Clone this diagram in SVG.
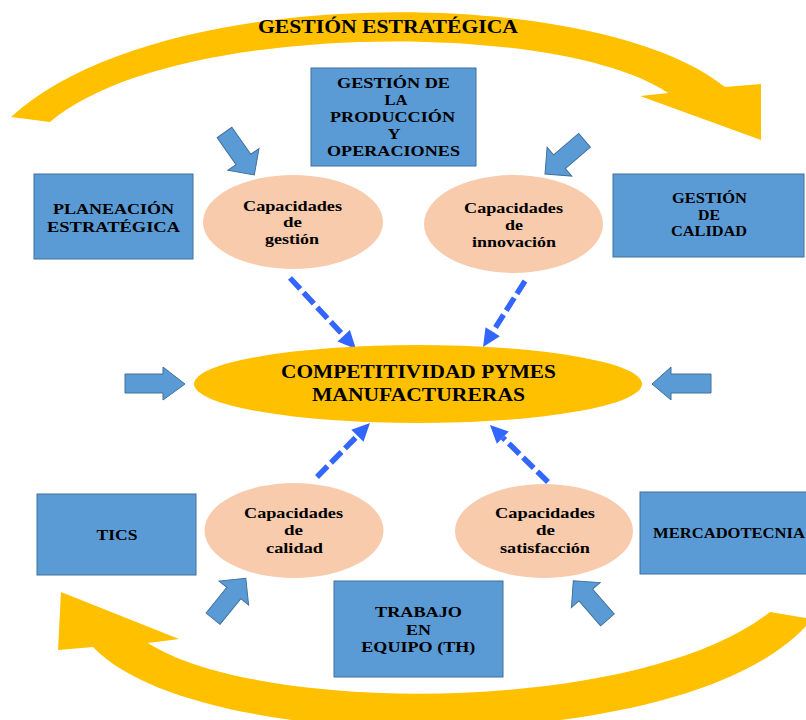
<svg xmlns="http://www.w3.org/2000/svg" xmlns:xlink="http://www.w3.org/1999/xlink" width="806" height="720" viewBox="0 0 806 720">
<style>
.box{fill:#5B9BD5;stroke:#41719C;stroke-width:1}
.cap{fill:#F8CBAD}
.core{fill:#FFC000}
.band{fill:#FFC000}
.blk{fill:#5B9BD5;stroke:#41719C;stroke-width:1}
.t{font-family:"Liberation Serif","Times New Roman",serif;font-weight:bold;fill:#000;text-anchor:middle;font-size:15.5px}
.tc{font-size:15px}
.tb{font-size:18.5px}
.dash{stroke:#3366FF;stroke-width:5.5;stroke-dasharray:15 5;fill:none;marker-end:url(#dh)}
</style>
<defs>
<marker id="dh" markerUnits="userSpaceOnUse" markerWidth="19" markerHeight="18" refX="0" refY="8.5" orient="auto" overflow="visible">
<path d="M0,0 L18,8.5 L0,17 Z" fill="#3366FF"/>
</marker>
<polygon id="barrow" points="-52,-9 -19,-9 -19,-19 0,0 -19,19 -19,9 -52,9"/>
</defs>
<rect width="806" height="720" fill="#fff"/>

<g id="cycle-arrows">
<path class="band" d="M11,117 C160,-20 600,-15 725,87 L761,84 L761,140 L640,96 L668,93 C560,20 170,20 50,122 Z"/>
<path class="band" d="M770,612 L812,619 C700,760 200,760 93,647 L58,650 L61,592 L179,639 L148,643 C260,715 640,715 770,612 Z"/>
<text class="t" x="388" y="33" style="font-size:18.5px" textLength="260" lengthAdjust="spacingAndGlyphs">GESTIÓN ESTRATÉGICA</text>
</g>

<g id="block-arrows">
<use xlink:href="#barrow" class="blk" transform="translate(254.3,175) rotate(55)"/>
<use xlink:href="#barrow" class="blk" transform="translate(545,174) rotate(139.5)"/>
<use xlink:href="#barrow" class="blk" transform="translate(245.8,578.3) rotate(-51)"/>
<use xlink:href="#barrow" class="blk" transform="translate(573.3,580.7) rotate(-131)"/>
<polygon class="blk" points="125,374 163,374 163,367 185,384 163,400 163,393 125,393"/>
<polygon class="blk" points="711,374 671,374 671,367 652,384 671,400 671,393 711,393"/>
</g>

<g id="connectors">
<line class="dash" x1="290" y1="278" x2="343.7" y2="335.8"/>
<line class="dash" x1="525" y1="281" x2="492.7" y2="331.8"/>
<line class="dash" x1="317" y1="477" x2="357.4" y2="435.8"/>
<line class="dash" x1="548" y1="482" x2="502.8" y2="437.6"/>
</g>

<g id="produccion">
<rect class="box" x="311" y="68" width="165" height="98"/>
<text class="t" x="393.5" y="88" textLength="113" lengthAdjust="spacingAndGlyphs">GESTIÓN DE</text>
<text class="t" x="396" y="105" textLength="23" lengthAdjust="spacingAndGlyphs">LA</text>
<text class="t" x="392.5" y="122" textLength="125" lengthAdjust="spacingAndGlyphs">PRODUCCIÓN</text>
<text class="t" x="394" y="139" textLength="13" lengthAdjust="spacingAndGlyphs">Y</text>
<text class="t" x="393.5" y="156" textLength="133" lengthAdjust="spacingAndGlyphs">OPERACIONES</text>
</g>

<g id="planeacion">
<rect class="box" x="34" y="174" width="159" height="85"/>
<text class="t" x="113.5" y="214" textLength="121" lengthAdjust="spacingAndGlyphs">PLANEACIÓN</text>
<text class="t" x="113.5" y="231.5" textLength="133" lengthAdjust="spacingAndGlyphs">ESTRATÉGICA</text>
</g>

<g id="calidad-gestion">
<rect class="box" x="613" y="174" width="191" height="83"/>
<text class="t" x="709.5" y="203" textLength="75" lengthAdjust="spacingAndGlyphs">GESTIÓN</text>
<text class="t" x="709" y="219.5" textLength="22" lengthAdjust="spacingAndGlyphs">DE</text>
<text class="t" x="709" y="236" textLength="76" lengthAdjust="spacingAndGlyphs">CALIDAD</text>
</g>

<g id="cap-gestion">
<ellipse class="cap" cx="293" cy="222" rx="90" ry="47"/>
<text class="t tc" x="292.5" y="211" textLength="99" lengthAdjust="spacingAndGlyphs">Capacidades</text>
<text class="t tc" x="292.5" y="227" textLength="19" lengthAdjust="spacingAndGlyphs">de</text>
<text class="t tc" x="292" y="244" textLength="54" lengthAdjust="spacingAndGlyphs">gestión</text>
</g>

<g id="cap-innovacion">
<ellipse class="cap" cx="513.5" cy="224" rx="89.5" ry="49"/>
<text class="t tc" x="513.5" y="213" textLength="99" lengthAdjust="spacingAndGlyphs">Capacidades</text>
<text class="t tc" x="514" y="229.5" textLength="18" lengthAdjust="spacingAndGlyphs">de</text>
<text class="t tc" x="514" y="246.5" textLength="84" lengthAdjust="spacingAndGlyphs">innovación</text>
</g>

<g id="competitividad">
<ellipse class="core" cx="418" cy="384" rx="224" ry="39"/>
<text class="t tb" x="418.5" y="378" textLength="275" lengthAdjust="spacingAndGlyphs">COMPETITIVIDAD PYMES</text>
<text class="t tb" x="418.5" y="401" textLength="213" lengthAdjust="spacingAndGlyphs">MANUFACTURERAS</text>
</g>

<g id="tics">
<rect class="box" x="37" y="494" width="159" height="81"/>
<text class="t" x="117" y="540" textLength="41" lengthAdjust="spacingAndGlyphs">TICS</text>
</g>

<g id="cap-calidad">
<ellipse class="cap" cx="294" cy="530.5" rx="89.5" ry="47.5"/>
<text class="t tc" x="293.5" y="518" textLength="99" lengthAdjust="spacingAndGlyphs">Capacidades</text>
<text class="t tc" x="293.5" y="535" textLength="19" lengthAdjust="spacingAndGlyphs">de</text>
<text class="t tc" x="294.5" y="552.5" textLength="57" lengthAdjust="spacingAndGlyphs">calidad</text>
</g>

<g id="cap-satisfaccion">
<ellipse class="cap" cx="544" cy="531" rx="89" ry="47"/>
<text class="t tc" x="545" y="518" textLength="100" lengthAdjust="spacingAndGlyphs">Capacidades</text>
<text class="t tc" x="545.5" y="535" textLength="19" lengthAdjust="spacingAndGlyphs">de</text>
<text class="t tc" x="545" y="553" textLength="90" lengthAdjust="spacingAndGlyphs">satisfacción</text>
</g>

<g id="mercadotecnia">
<rect class="box" x="640" y="492" width="172" height="82"/>
<text class="t" x="729" y="538" textLength="152" lengthAdjust="spacingAndGlyphs">MERCADOTECNIA</text>
</g>

<g id="trabajo">
<rect class="box" x="334" y="581" width="169" height="96"/>
<text class="t" x="418.5" y="617" textLength="87" lengthAdjust="spacingAndGlyphs">TRABAJO</text>
<text class="t" x="418.5" y="634.5" textLength="25" lengthAdjust="spacingAndGlyphs">EN</text>
<text class="t" x="418.3" y="651.5" textLength="114" lengthAdjust="spacingAndGlyphs">EQUIPO (TH)</text>
</g>
</svg>
